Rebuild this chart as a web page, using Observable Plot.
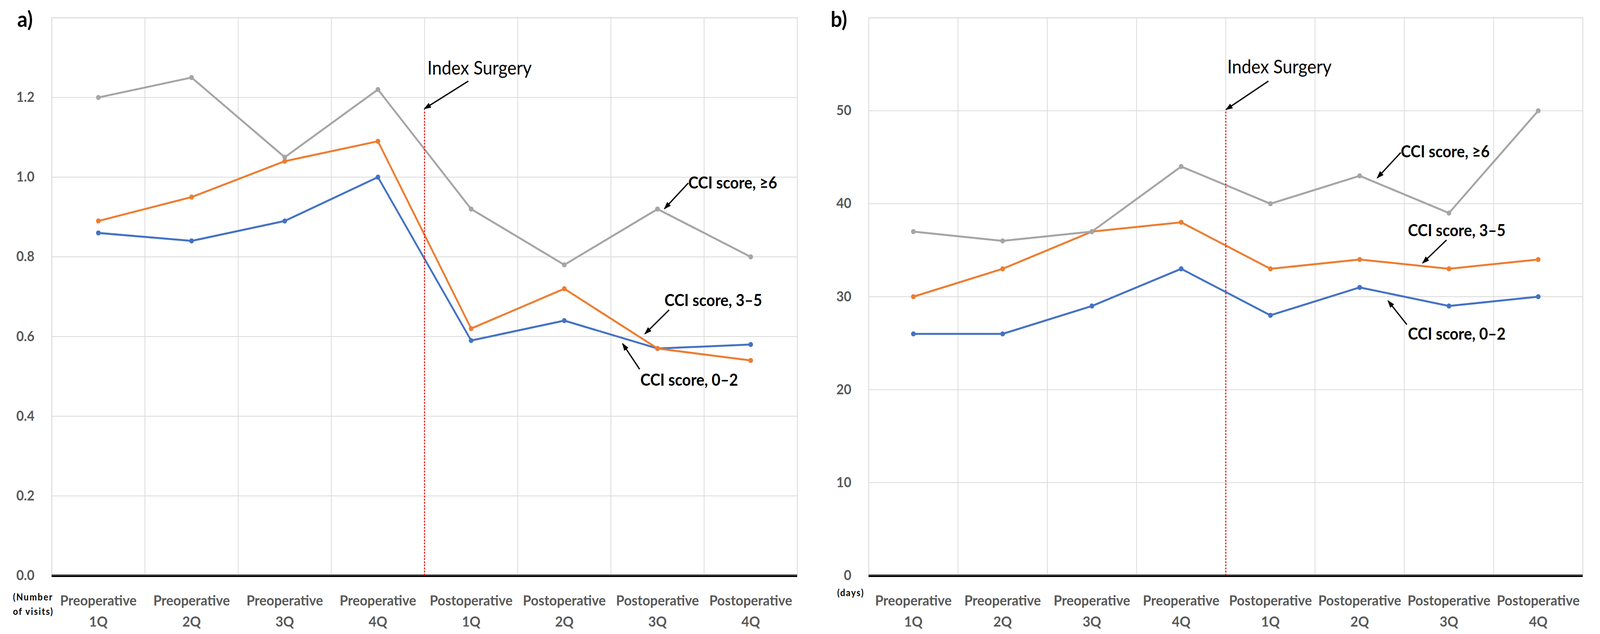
<!DOCTYPE html>
<html><head><meta charset="utf-8">
<script src="https://cdn.jsdelivr.net/npm/d3@7"></script>
<script src="https://cdn.jsdelivr.net/npm/@observablehq/plot@0.6"></script>
<style>
html,body{margin:0;padding:0;background:#fff;overflow:hidden;}
#wrap{position:relative;width:4434px;height:1624px;font-family:Lato,"Open Sans",sans-serif;overflow:hidden;transform-origin:0 0;}
.panel{position:absolute;top:0;}
.tag{position:absolute;font-weight:700;font-size:56px;line-height:1;color:#000;}
.unit{position:absolute;font-weight:700;font-size:24px;line-height:37px;letter-spacing:2.5px;color:#000;white-space:nowrap;}
</style></head><body><div id="wrap"></div>
<script>
// ---- data ----
const categories = ["Preoperative\n1Q","Preoperative\n2Q","Preoperative\n3Q","Preoperative\n4Q",
                    "Postoperative\n1Q","Postoperative\n2Q","Postoperative\n3Q","Postoperative\n4Q"];
const seriesNames = ["CCI score, 0–2","CCI score, 3–5","CCI score, ≥6"];
const seriesColors = ["#4472C4","#ED7D31","#A5A5A5"];
const visits02 = [0.86,0.84,0.89,1.00,0.59,0.64,0.57,0.58];
const visits35 = [0.89,0.95,1.04,1.09,0.62,0.72,0.57,0.54];
const visits6  = [1.20,1.25,1.05,1.22,0.92,0.78,0.92,0.80];
const days02 = [26,26,29,33,28,31,29,30];
const days35 = [30,33,37,38,33,34,33,34];
const days6  = [37,36,37,44,40,43,39,50];
const yTicksA = [0,0.2,0.4,0.6,0.8,1.0,1.2];
const yTicksB = [0,10,20,30,40,50];
const yMaxA = 1.4, yMaxB = 60;
const surgeryBoundary = 4;           // between Preoperative 4Q and Postoperative 1Q
const surgeryTopA = 1.17, surgeryTopB = 50;
// annotation anchors in data units (x = category index units, y = value)
const labelsA = [
  {text:"Index Surgery", x:4.03, y:1.257, bold:false},
  {text:"CCI score, ≥6", x:6.83, y:0.971, bold:true},
  {text:"CCI score, 3–5", x:6.575, y:0.676, bold:true},
  {text:"CCI score, 0–2", x:6.316, y:0.477, bold:true}];
const arrowsA = [
  {x1:4.47, y1:1.241, x2:4.0, y2:1.172},
  {x1:6.83, y1:0.985, x2:6.575, y2:0.921},
  {x1:6.625, y1:0.667, x2:6.366, y2:0.607},
  {x1:6.308, y1:0.518, x2:6.126, y2:0.582}];
const labelsB = [
  {text:"Index Surgery", x:4.016, y:54.0, bold:false},
  {text:"CCI score, ≥6", x:5.96, y:45.0, bold:true},
  {text:"CCI score, 3–5", x:6.04, y:36.5, bold:true},
  {text:"CCI score, 0–2", x:6.04, y:25.4, bold:true}];
const arrowsB = [
  {x1:4.477, y1:53.19, x2:4.004, y2:50.13},
  {x1:5.96, y1:45.5, x2:5.697, y2:42.78},
  {x1:6.473, y1:36.1, x2:6.206, y2:33.63},
  {x1:6.028, y1:27.0, x2:5.818, y2:29.55}];

function filledArrow(color) {
  const m = d3.create("svg:marker")
    .attr("viewBox","-7 -7 14 14").attr("markerWidth",14).attr("markerHeight",14)
    .attr("orient","auto").attr("fill","#000").attr("stroke","none");
  m.append("path").attr("d","M-5,-2L0.8,0L-5,2Z");
  return m.node();
}

function panel({width, marginLeft, marginRight, series, yMax, yTicks, fmt, surgeryTop, labels, arrows}) {
  const grid = yTicks.concat([yMax]);
  const marks = [
    Plot.ruleY(grid, {stroke:"#D9D9D9", strokeWidth:2}),
    Plot.ruleX(d3.range(0, categories.length + 1), {stroke:"#D9D9D9", strokeWidth:2}),
    Plot.frame({stroke:"#D9D9D9", strokeWidth:2}),
    Plot.ruleY([0], {stroke:"#6b6b6b", strokeWidth:7}),
    Plot.ruleY([0], {stroke:"#000", strokeWidth:4, dy:1.5})
  ];
  series.forEach((vals, s) => {
    const rows = vals.map((v, i) => ({x: i + 0.5, y: v, name: seriesNames[s]}));
    marks.push(Plot.line(rows, {x:"x", y:"y", stroke: seriesColors[s], strokeWidth:5}));
    marks.push(Plot.dot(rows, {x:"x", y:"y", r:6.5, fill: seriesColors[s], stroke:"none"}));
  });
  marks.push(Plot.ruleX([surgeryBoundary], {y1:0, y2:surgeryTop, stroke:"#FF0000", strokeWidth:3, strokeDasharray:"4,4"}));
  marks.push(Plot.link(arrows, {x1:"x1", y1:"y1", x2:"x2", y2:"y2", stroke:"#000", strokeWidth:3.5, markerEnd: filledArrow}));
  marks.push(Plot.text(labels.filter(d => d.bold), {x:"x", y:"y", text:"text", textAnchor:"start", lineAnchor:"bottom", fontSize:42, fontWeight:700, fill:"#000"}));
  marks.push(Plot.text(labels.filter(d => !d.bold), {x:"x", y:"y", text:"text", textAnchor:"start", lineAnchor:"bottom", fontSize:48, fontWeight:400, fill:"#000"}));
  marks.push(Plot.axisY({ticks: yTicks, tickFormat: fmt, tickSize:0, tickPadding:48, fontSize:36, fontWeight:700, fill:"#595959", label:null}));
  marks.push(Plot.axisX({ticks: d3.range(categories.length).map(i => i + 0.5), tickFormat: t => categories[Math.floor(t)],
    tickSize:0, tickPadding:38, fontSize:37, fontWeight:700, fill:"#595959", lineHeight:1.46, label:null}));
  return Plot.plot({
    width, height:1624, marginLeft, marginRight, marginTop:45, marginBottom:150,
    style:{fontFamily:"Lato, 'Open Sans', sans-serif", background:"transparent", overflow:"visible"},
    x:{domain:[0, categories.length], axis:null},
    y:{domain:[0, yMax], axis:null},
    marks
  });
}

const wrap = document.getElementById("wrap");
const a = panel({width:2240, marginLeft:143, marginRight:31, series:[visits02, visits35, visits6], yMax:yMaxA,
  yTicks:yTicksA, fmt:d3.format(".1f"), surgeryTop:surgeryTopA, labels:labelsA, arrows:arrowsA});
a.classList.add("panel"); a.style.left = "0px"; wrap.appendChild(a);
const b = panel({width:2194, marginLeft:167, marginRight:48, series:[days02, days35, days6], yMax:yMaxB,
  yTicks:yTicksB, fmt:d3.format("d"), surgeryTop:surgeryTopB, labels:labelsB, arrows:arrowsB});
b.classList.add("panel"); b.style.left = "2240px"; wrap.appendChild(b);

function addDiv(cls, html, left, top) {
  const d = document.createElement("div"); d.className = cls; d.innerHTML = html;
  d.style.left = left + "px"; d.style.top = top + "px"; wrap.appendChild(d);
}
addDiv("tag", "a)", 48, 20);
addDiv("tag", "b)", 2302, 20);
addDiv("unit", "(Number<br>of visits)", 36, 1510);
addDiv("unit", "(days)", 2320, 1499);

// fit the 4434×1624 design into whatever viewport the browser actually provides
function fit() {
  const sx = (window.innerWidth || 4434) / 4434, sy = (window.innerHeight || 1624) / 1624;
  wrap.style.transform = (Math.abs(sx - 1) < 1e-3 && Math.abs(sy - 1) < 1e-3) ? "" : `scale(${sx},${sy})`;
}
fit();
window.addEventListener("resize", fit);
</script></body></html>
